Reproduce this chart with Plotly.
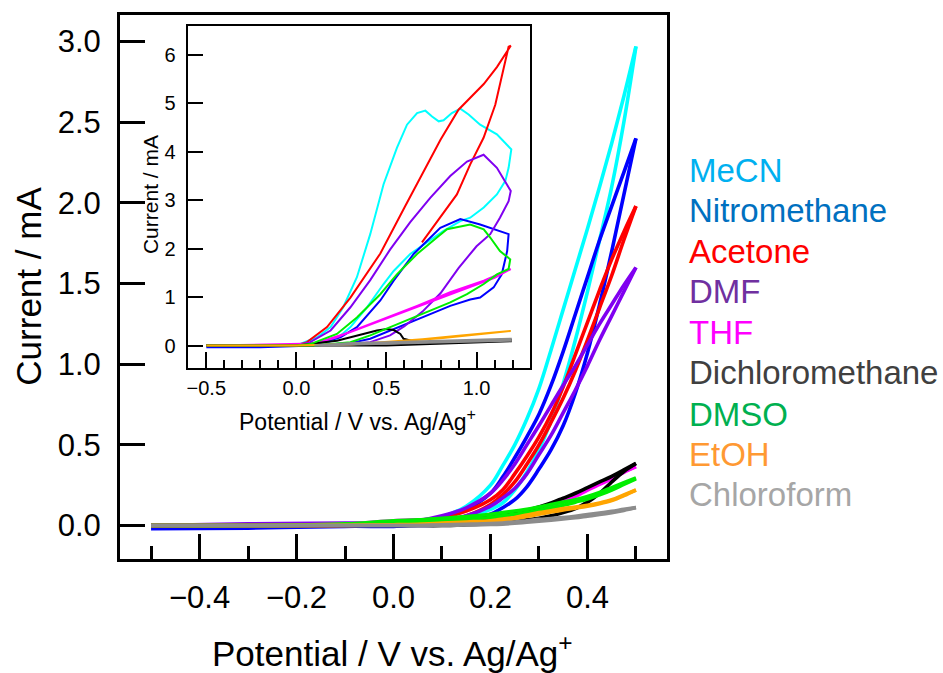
import plotly.graph_objects as go

# ---------------- main panel data (Potential / V, Current / mA) ----------------
V_MAIN = [-0.5, -0.3, -0.1, 0.0, 0.05, 0.1, 0.15, 0.2, 0.225, 0.25, 0.275, 0.3,
          0.325, 0.35, 0.375, 0.4, 0.425, 0.45, 0.475, 0.5]

MECN_UP = [0, 0, 0.005, 0.015, 0.03, 0.055, 0.12, 0.25, 0.37, 0.50, 0.66, 0.85, 1.09, 1.34, 1.59, 1.84, 2.10, 2.37, 2.66, 2.97]
MECN_LO = [0, 0, 0, 0.005, 0.01, 0.02, 0.05, 0.10, 0.14, 0.22, 0.33, 0.47, 0.65, 0.88, 1.15, 1.45, 1.77, 2.10, 2.50, 2.97]
NITRO_UP = [0, 0, 0.005, 0.02, 0.03, 0.05, 0.10, 0.20, 0.30, 0.42, 0.55, 0.69, 0.87, 1.08, 1.31, 1.54, 1.77, 1.98, 2.19, 2.40]
NITRO_LO = [-0.02, -0.016, -0.005, -0.005, 0.0, 0.005, 0.03, 0.07, 0.11, 0.16, 0.24, 0.35, 0.47, 0.62, 0.82, 1.07, 1.37, 1.70, 2.05, 2.40]
ACET_UP = [0, 0, 0.005, 0.02, 0.03, 0.05, 0.09, 0.16, 0.22, 0.32, 0.43, 0.55, 0.69, 0.86, 1.06, 1.26, 1.46, 1.65, 1.82, 1.98]
ACET_LO = [0, 0, 0, 0.01, 0.015, 0.03, 0.06, 0.13, 0.19, 0.27, 0.38, 0.50, 0.64, 0.79, 0.96, 1.15, 1.35, 1.55, 1.77, 1.98]
DMF_UP = [0, 0.01, 0.015, 0.02, 0.03, 0.06, 0.11, 0.20, 0.28, 0.38, 0.50, 0.62, 0.745, 0.87, 0.99, 1.12, 1.25, 1.37, 1.49, 1.60]
DMF_LO = [0, 0, 0.005, 0.01, 0.015, 0.03, 0.06, 0.12, 0.17, 0.23, 0.32, 0.44, 0.56, 0.70, 0.84, 0.99, 1.15, 1.30, 1.45, 1.60]
THF_UP = [0, 0, 0.01, 0.03, 0.035, 0.04, 0.05, 0.06, 0.07, 0.08, 0.095, 0.11, 0.135, 0.16, 0.19, 0.23, 0.265, 0.30, 0.335, 0.365]
THF_LO = [0, 0, 0.005, 0.02, 0.025, 0.03, 0.04, 0.05, 0.06, 0.07, 0.085, 0.10, 0.125, 0.15, 0.18, 0.22, 0.255, 0.29, 0.33, 0.365]
DCM_UP = [0, 0, 0.005, 0.02, 0.022, 0.025, 0.035, 0.05, 0.06, 0.075, 0.095, 0.115, 0.14, 0.17, 0.20, 0.235, 0.27, 0.305, 0.345, 0.385]
DCM_LO = [0, 0, 0, 0, 0, 0, 0.005, 0.012, 0.018, 0.026, 0.035, 0.045, 0.06, 0.08, 0.105, 0.145, 0.20, 0.27, 0.335, 0.385]
DMSO_UP = [0, 0, 0.01, 0.03, 0.035, 0.045, 0.055, 0.07, 0.08, 0.09, 0.10, 0.115, 0.13, 0.145, 0.16, 0.18, 0.205, 0.235, 0.265, 0.295]
DMSO_LO = [0, 0, 0.005, 0.02, 0.025, 0.03, 0.04, 0.05, 0.06, 0.07, 0.08, 0.095, 0.11, 0.125, 0.145, 0.165, 0.19, 0.22, 0.255, 0.29]
ETOH_UP = [0, 0, 0.002, 0.005, 0.008, 0.015, 0.022, 0.03, 0.04, 0.05, 0.065, 0.08, 0.092, 0.105, 0.115, 0.125, 0.14, 0.16, 0.19, 0.22]
ETOH_LO = [0, 0, 0, 0.003, 0.005, 0.01, 0.016, 0.024, 0.032, 0.042, 0.056, 0.07, 0.084, 0.097, 0.108, 0.12, 0.135, 0.155, 0.185, 0.22]
CHCL3_UP = [0, 0, 0, 0, 0, 0.005, 0.008, 0.012, 0.016, 0.022, 0.03, 0.038, 0.044, 0.05, 0.058, 0.068, 0.078, 0.088, 0.10, 0.111]
CHCL3_LO = [0, 0, 0, 0, 0, 0, 0.003, 0.006, 0.009, 0.014, 0.02, 0.027, 0.033, 0.04, 0.048, 0.058, 0.068, 0.08, 0.094, 0.111]

# ---------------- inset data (Potential / V, Current / mA) ----------------
IN_MECN_V = [-0.5, 0.0, 0.115, 0.19, 0.26, 0.336, 0.41, 0.484, 0.558, 0.614, 0.67, 0.716, 0.753, 0.79, 0.817,
             0.863, 0.91, 0.956, 1.02, 1.113, 1.193, 1.178, 1.16, 1.113, 1.04, 0.965, 0.91, 0.817, 0.725, 0.632,
             0.54, 0.484, 0.392, 0.30, 0.225, 0.15, 0.0, -0.5]
IN_MECN_I = [0, 0, 0.17, 0.38, 0.79, 1.41, 2.30, 3.33, 4.08, 4.56, 4.80, 4.85, 4.73, 4.63, 4.65,
             4.80, 4.89, 4.77, 4.56, 4.36, 4.05, 3.67, 3.40, 3.12, 2.85, 2.64, 2.57, 2.37, 2.13, 1.89,
             1.54, 1.27, 0.79, 0.38, 0.14, 0.03, 0.0, 0.0]
IN_NITRO_V = [-0.5, 0.0, 0.115, 0.244, 0.336, 0.466, 0.54, 0.651, 0.799, 0.91, 1.02, 1.178, 1.17, 1.14, 1.095,
              1.02, 0.965, 0.854, 0.743, 0.632, 0.52, 0.41, 0.30, 0.1, -0.2, -0.5]
IN_NITRO_I = [0, 0, 0.03, 0.17, 0.38, 0.93, 1.34, 1.89, 2.43, 2.61, 2.50, 2.30, 1.95, 1.47, 1.20,
              0.99, 0.95, 0.82, 0.65, 0.48, 0.31, 0.14, 0.05, 0.0, -0.034, -0.034]
IN_ACET_V = [-0.5, 0.0, 0.059, 0.17, 0.30, 0.41, 0.466, 0.60, 0.706, 0.80, 0.90, 1.0, 1.04, 1.113, 1.19,
             1.178, 1.104, 1.039, 0.965, 0.891, 0.799, 0.697]
IN_ACET_I = [0, 0, 0.07, 0.38, 0.99, 1.60, 1.90, 2.85, 3.60, 4.25, 4.87, 5.25, 5.40, 5.75, 6.19,
             6.17, 4.97, 4.29, 3.74, 3.12, 2.64, 2.13]
IN_DMF_V = [-0.5, 0.0, 0.077, 0.19, 0.30, 0.41, 0.52, 0.632, 0.743, 0.854, 0.947, 1.039, 1.113, 1.168, 1.19,
            1.178, 1.13, 1.076, 1.0, 0.9, 0.8, 0.7, 0.6, 0.52, 0.41, 0.30, 0.1, -0.25, -0.5]
IN_DMF_I = [0, 0, 0.07, 0.31, 0.79, 1.35, 1.98, 2.55, 3.05, 3.50, 3.80, 3.94, 3.67, 3.33, 3.19,
            2.98, 2.64, 2.30, 2.05, 1.60, 1.08, 0.70, 0.40, 0.21, 0.07, 0.03, 0.01, 0.0, 0.0]
IN_THF_V = [-0.5, 0.0, 0.115, 0.225, 0.336, 0.484, 0.67, 0.854, 1.04, 1.19, 1.1, 0.9, 0.7, 0.5, 0.3, 0.1, -0.5]
IN_THF_I = [0, 0, 0.05, 0.17, 0.34, 0.55, 0.82, 1.10, 1.34, 1.58, 1.40, 1.12, 0.84, 0.55, 0.28, 0.04, 0]
IN_DCM_V = [-0.5, 0.0, 0.225, 0.336, 0.447, 0.503, 0.54, 0.577, 0.595, 0.67, 0.9, 1.19, 1.19, 0.9, 0.7, 0.5, 0.2, -0.5]
IN_DCM_I = [0, 0, 0.10, 0.21, 0.31, 0.34, 0.32, 0.24, 0.14, 0.07, 0.09, 0.12, 0.09, 0.05, 0.02, 0.0, 0.0, 0.0]
IN_DMSO_V = [-0.5, 0.0, 0.077, 0.225, 0.336, 0.466, 0.558, 0.67, 0.78, 0.836, 0.965, 1.04, 1.076, 1.13, 1.187,
             1.178, 1.113, 1.04, 0.947, 0.854, 0.743, 0.632, 0.52, 0.41, 0.30, 0.1, -0.5]
IN_DMSO_I = [0, 0, 0.03, 0.24, 0.58, 1.06, 1.47, 1.89, 2.23, 2.40, 2.50, 2.40, 2.23, 1.95, 1.78,
             1.58, 1.47, 1.27, 1.06, 0.89, 0.72, 0.55, 0.38, 0.21, 0.07, 0.0, 0.0]
IN_ETOH_V = [-0.5, 0.0, 0.3, 0.5, 0.7, 0.9, 1.19, 1.19, 0.8, 0.4, 0.0, -0.5]
IN_ETOH_I = [0, 0, 0.02, 0.07, 0.13, 0.20, 0.30, 0.29, 0.15, 0.04, 0.0, 0.0]
IN_CHCL3_V = [0.1, 0.3, 0.5, 0.67, 0.9, 1.19, 1.19, 0.9, 0.6, 0.3, 0.1]
IN_CHCL3_I = [0, 0.05, 0.07, 0.09, 0.11, 0.14, 0.10, 0.07, 0.04, 0.02, 0]

# ---------------- labels / colours ----------------
SOLVENTS = ["MeCN", "Nitromethane", "Acetone", "DMF", "THF", "Dichloromethane", "DMSO", "EtOH", "Chloroform"]
LINE_COLORS = ["#00FFFF", "#0000FF", "#FF0000", "#8000F0", "#FF00FF", "#000000", "#00EE00", "#FFA500", "#8C8C8C"]
TEXT_COLORS = ["#00B0F0", "#0070C0", "#FF0000", "#7030A0", "#FF00FF", "#404040", "#00B050", "#FF9933", "#A6A6A6"]

MAIN_UP = [MECN_UP, NITRO_UP, ACET_UP, DMF_UP, THF_UP, DCM_UP, DMSO_UP, ETOH_UP, CHCL3_UP]
MAIN_LO = [MECN_LO, NITRO_LO, ACET_LO, DMF_LO, THF_LO, DCM_LO, DMSO_LO, ETOH_LO, CHCL3_LO]
INSET_V = [IN_MECN_V, IN_NITRO_V, IN_ACET_V, IN_DMF_V, IN_THF_V, IN_DCM_V, IN_DMSO_V, IN_ETOH_V, IN_CHCL3_V]
INSET_I = [IN_MECN_I, IN_NITRO_I, IN_ACET_I, IN_DMF_I, IN_THF_I, IN_DCM_I, IN_DMSO_I, IN_ETOH_I, IN_CHCL3_I]

FONT = "Liberation Sans, Arial, sans-serif"

fig = go.Figure()

# main panel curves (each loop drawn as its two branches)
for name, col, up, lo in zip(SOLVENTS, LINE_COLORS, MAIN_UP, MAIN_LO):
    for branch in (lo, up):
        fig.add_trace(go.Scatter(x=V_MAIN, y=branch, mode="lines", name=name, showlegend=False,
                                 line=dict(color=col, width=3.6, shape="spline", smoothing=1.0),
                                 xaxis="x", yaxis="y", hoverinfo="skip"))

# inset curves
for name, col, vv, ii in zip(SOLVENTS, LINE_COLORS, INSET_V, INSET_I):
    fig.add_trace(go.Scatter(x=vv, y=ii, mode="lines", name=name, showlegend=False,
                             line=dict(color=col, width=2),
                             xaxis="x2", yaxis="y2", hoverinfo="skip"))

# legend as coloured text
LEG_Y = [169.5, 209.5, 250.5, 291, 332, 372.5, 414, 454.5, 495]
PLOT_TOP, PLOT_H = 13.3, 546.0
for name, tc, py in zip(SOLVENTS, TEXT_COLORS, LEG_Y):
    fig.add_annotation(text=name, xref="paper", yref="paper",
                       x=(687 - 120) / 546.7, y=(PLOT_TOP + PLOT_H - py) / PLOT_H,
                       xanchor="left", yanchor="middle", showarrow=False,
                       font=dict(family=FONT, size=33, color=tc))

# axis titles
fig.add_annotation(text="Current / mA", xref="paper", yref="paper", textangle=-90,
                   x=(29 - 120) / 546.7, y=(PLOT_TOP + PLOT_H - 285) / PLOT_H,
                   xanchor="center", yanchor="middle", showarrow=False,
                   font=dict(family=FONT, size=35, color="black"))
fig.add_annotation(text="Potential / V vs. Ag/Ag<sup>+</sup>", xref="paper", yref="paper",
                   x=(392 - 120) / 546.7, y=(PLOT_TOP + PLOT_H - 652) / PLOT_H,
                   xanchor="center", yanchor="middle", showarrow=False,
                   font=dict(family=FONT, size=35, color="black"))
fig.add_annotation(text="Current / mA", xref="paper", yref="paper", textangle=-90,
                   x=(150 - 120) / 546.7, y=(PLOT_TOP + PLOT_H - 194) / PLOT_H,
                   xanchor="center", yanchor="middle", showarrow=False,
                   font=dict(family=FONT, size=21, color="black"))
fig.add_annotation(text="Potential / V vs. Ag/Ag<sup>+</sup>", xref="paper", yref="paper",
                   x=(357 - 120) / 546.7, y=(PLOT_TOP + PLOT_H - 420) / PLOT_H,
                   xanchor="center", yanchor="middle", showarrow=False,
                   font=dict(family=FONT, size=23, color="black"))

fig.update_layout(
    width=943, height=673,
    margin=dict(l=120, r=276.3, t=13.3, b=113.7, pad=0),
    paper_bgcolor="white", plot_bgcolor="rgba(0,0,0,0)",
    font=dict(family=FONT, color="black"),
    showlegend=False,
    xaxis=dict(domain=[0, 1], range=[-0.564, 0.564], tickmode="linear", tick0=0, dtick=0.2,
               tickformat=".1f", ticks="inside", ticklen=25, tickwidth=2.5, tickcolor="black",
               minor=dict(ticks="inside", dtick=0.1, tick0=0, ticklen=13, tickwidth=2.5, tickcolor="black"),
               showline=True, linewidth=3, linecolor="black", mirror=True,
               showgrid=False, zeroline=False, tickfont=dict(size=31), ticklabelstandoff=9),
    yaxis=dict(domain=[0, 1], range=[-0.2075, 3.165], tickmode="linear", tick0=0, dtick=0.5,
               tickformat=".1f", ticks="inside", ticklen=25, tickwidth=2.5, tickcolor="black",
               showline=True, linewidth=3, linecolor="black", mirror=True,
               showgrid=False, zeroline=False, tickfont=dict(size=31), ticklabelstandoff=10),
    xaxis2=dict(domain=[(187.7 - 120) / 546.7, (530 - 120) / 546.7], anchor="y2",
                range=[-0.603, 1.298], tickmode="linear", tick0=0, dtick=0.5, tickformat=".1f",
                ticks="inside", ticklen=16, tickwidth=2, tickcolor="black",
                minor=dict(ticks="inside", dtick=0.1, tick0=0, ticklen=8, tickwidth=2, tickcolor="black"),
                showline=True, linewidth=2, linecolor="black", mirror=True,
                showgrid=False, zeroline=False, tickfont=dict(size=20), ticklabelstandoff=1),
    yaxis2=dict(domain=[(559.3 - 367.7) / 546.0, (559.3 - 24) / 546.0], anchor="x2",
                range=[-0.466, 6.605], tickmode="linear", tick0=0, dtick=1,
                ticks="inside", ticklen=15, tickwidth=2, tickcolor="black",
                showline=True, linewidth=2, linecolor="black", mirror=True,
                showgrid=False, zeroline=False, tickfont=dict(size=20), ticklabelstandoff=6),
)

fig.write_html("out.html", config={"displayModeBar": False},
               post_script="document.body.style.margin='0px';document.body.style.padding='0px';")
